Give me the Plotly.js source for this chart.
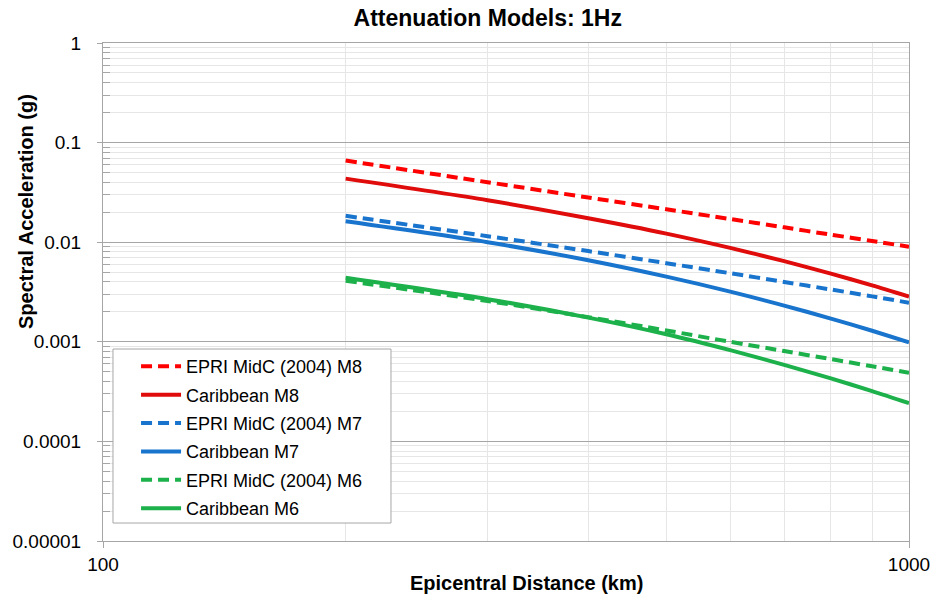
<!DOCTYPE html>
<html><head><meta charset="utf-8">
<script src="https://cdn.plot.ly/plotly-3.0.1.min.js"></script>
<style>html,body{margin:0;padding:0;background:#fff}</style>
</head><body><div id="chart" style="width:938px;height:601px"></div>
<script>
const distance = [200, 300, 400, 500, 600, 700, 800, 900, 1000];
const epriM8 = [0.066, 0.0400, 0.0281, 0.0214, 0.0171, 0.0141, 0.0119, 0.0103, 0.0090];
const caribM8 = [0.0435, 0.0264, 0.0174, 0.0122, 0.00877, 0.00645, 0.00484, 0.00369, 0.00285];
const epriM7 = [0.0184, 0.0115, 0.00814, 0.00616, 0.00488, 0.00399, 0.00335, 0.00286, 0.00247];
const caribM7 = [0.0162, 0.0100, 0.00659, 0.00451, 0.00319, 0.00231, 0.00171, 0.00129, 0.00099];
const epriM6 = [0.0041, 0.00257, 0.00177, 0.00130, 0.00100, 0.000808, 0.00067, 0.000568, 0.00049];
const caribM6 = [0.00439, 0.00268, 0.00175, 0.00119, 0.000824, 0.000587, 0.000429, 0.00032, 0.000242];

const seriesNames = ["EPRI MidC (2004) M8", "Caribbean M8", "EPRI MidC (2004) M7", "Caribbean M7", "EPRI MidC (2004) M6", "Caribbean M6"];
const seriesValues = [epriM8, caribM8, epriM7, caribM7, epriM6, caribM6];
const seriesColors = ["#FF0000", "#E00B0B", "#1874CD", "#1874CD", "#1DB14B", "#1DB14B"];
const seriesDash = ["11px,6px", "solid", "11px,6px", "solid", "11px,6px", "solid"];

const yTickVals = [1, 0.1, 0.01, 0.001, 0.0001, 0.00001];
const yTickText = ["1", "0.1", "0.01", "0.001", "0.0001", "0.00001"];
const xTickVals = [100, 1000];
const xTickText = ["100", "1000"];

// minor tick positions (2..9 within each decade)
const yMinor = [];
for (let e = -5; e < 0; e++) for (let k = 2; k <= 9; k++) yMinor.push(k * Math.pow(10, e));
const xMinor = [];
for (let k = 2; k <= 9; k++) xMinor.push(k * 100);

const traces = seriesNames.map((name, i) => ({
  type: "scatter", mode: "lines", name: name,
  x: distance, y: seriesValues[i],
  legendgroup: "g" + i,
  line: {color: seriesColors[i], width: 4, dash: seriesDash[i], shape: "spline", smoothing: 0.8}
}));

const FONT = "Liberation Sans, Arial, sans-serif";
const GRID = "#A6A6A6";
const MINOR = "#E6E6E6";

const layout = {
  width: 938, height: 601,
  margin: {l: 103, r: 29, t: 43, b: 60},
  paper_bgcolor: "#fff", plot_bgcolor: "#fff",
  font: {family: FONT, color: "#000", size: 18},
  showlegend: true,
  title: {text: "<b>Attenuation Models: 1Hz</b>", font: {family: FONT, size: 23, color: "#000"},
          x: 0.52, xref: "container", xanchor: "center", y: 0.97, yref: "container", yanchor: "middle"},
  xaxis: {
    type: "log", range: [2, 3],
    tickmode: "array", tickvals: xTickVals, ticktext: xTickText,
    ticks: "outside", ticklen: 6, tickcolor: GRID,
    showline: true, linecolor: GRID, mirror: true,
    showgrid: true, gridcolor: GRID, zeroline: false,
    tickfont: {size: 19, family: FONT},
    minor: {tickmode: "array", tickvals: xMinor, showgrid: true, gridcolor: MINOR, ticks: ""}
  },
  yaxis: {
    type: "log", range: [-5, 0],
    tickmode: "array", tickvals: yTickVals, ticktext: yTickText,
    ticks: "outside", ticklen: 5, tickcolor: GRID,
    showline: true, linecolor: GRID, mirror: true,
    showgrid: true, gridcolor: GRID, zeroline: false,
    tickfont: {size: 19, family: FONT},
    ticklabelstandoff: 12,
    minor: {tickmode: "array", tickvals: yMinor, showgrid: true, gridcolor: MINOR, ticks: "inside", ticklen: 7, tickcolor: GRID}
  },
  legend: {
    x: 0.041, y: 0.3875, xanchor: "left", yanchor: "top",
    bgcolor: "rgba(0,0,0,0)", borderwidth: 0,
    font: {size: 18, family: FONT, color: "#000"},
    traceorder: "grouped", tracegroupgap: 2, itemwidth: 40
  },
  shapes: [{
    type: "rect", xref: "paper", yref: "paper",
    x0: 0.0124, x1: 0.3573, y0: 0.0361, y1: 0.3855,
    fillcolor: "#fff", line: {color: GRID, width: 1}, layer: "above"
  }],
  annotations: [{
    text: "<b>Spectral Acceleration (g)</b>", textangle: -90,
    xref: "paper", yref: "paper", x: -0.0955, y: 0.6606,
    xanchor: "center", yanchor: "middle", showarrow: false,
    font: {size: 20, family: FONT, color: "#000"}
  }, {
    text: "<b>Epicentral Distance (km)</b>",
    xref: "paper", yref: "paper", x: 0.526, y: -0.0843,
    xanchor: "center", yanchor: "middle", showarrow: false,
    font: {size: 20, family: FONT, color: "#000"}
  }]
};

Plotly.newPlot("chart", traces, layout, {displayModeBar: false, staticPlot: true});
</script>
</body></html>
